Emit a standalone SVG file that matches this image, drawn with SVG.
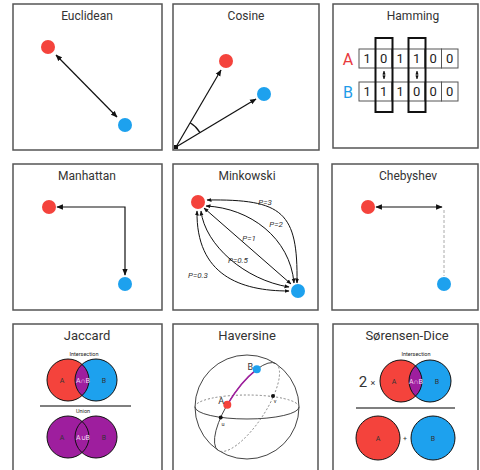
<svg xmlns="http://www.w3.org/2000/svg" width="480" height="470" viewBox="0 0 480 470">
<style>
.box{fill:#fff;stroke:#555;stroke-width:1.5}
.title{font-family:Roboto,"Liberation Sans",sans-serif;font-size:12px;fill:#333;text-anchor:middle}
.title2{font-family:Roboto,"Liberation Sans",sans-serif;font-size:13px;fill:#333;text-anchor:middle}
.red{fill:#f4433c}
.blue{fill:#1da1ee}
.purple{fill:#9e1e9e}
.ln{stroke:#111;stroke-width:1.2;fill:none}
.ar{marker-start:url(#ah);marker-end:url(#ah)}
.sm{font-family:Roboto,"Liberation Sans",sans-serif;font-size:5.5px;fill:#222;text-anchor:middle}
.vl{font-family:Roboto,"Liberation Sans",sans-serif;font-size:7px;fill:#333;text-anchor:middle}
.pl{font-family:Roboto,"Liberation Sans",sans-serif;font-size:8px;font-style:italic;fill:#333;text-anchor:middle}
.dig{font-family:Roboto,"Liberation Sans",sans-serif;font-size:13px;fill:#222;text-anchor:middle}
.cell{fill:#fff;stroke:#555;stroke-width:1}
</style>
<defs>
<marker id="ah" viewBox="0 0 10 10" refX="9" refY="5" markerWidth="5.5" markerHeight="5.5" orient="auto-start-reverse"><path d="M0,1 L10,5 L0,9 z" fill="#111"/></marker>
<marker id="ahs" viewBox="0 0 10 10" refX="9" refY="5" markerWidth="5" markerHeight="5" orient="auto-start-reverse"><path d="M0,1 L10,5 L0,9 z" fill="#111"/></marker>
</defs>

<!-- Euclidean -->
<g id="euclidean">
<rect class="box" x="13" y="4" width="149" height="146"/>
<text class="title" x="87" y="20">Euclidean</text>
<circle class="red" cx="48" cy="47" r="7"/>
<circle class="blue" cx="125" cy="125" r="7"/>
</g>

<!-- Cosine -->
<g id="cosine">
<rect class="box" x="173" y="4" width="146" height="146"/>
<text class="title" x="246" y="20">Cosine</text>
<circle class="red" cx="226" cy="61" r="7"/>
<circle class="blue" cx="264" cy="94" r="7"/>
<rect x="174" y="145" width="4" height="4" fill="#111"/>
</g>

<!-- Hamming -->
<g id="hamming">
<rect class="box" x="333" y="4" width="145" height="144"/>
<text class="title" x="413" y="20">Hamming</text>
<text x="348" y="65" font-family="Roboto,'Liberation Sans',sans-serif" font-size="16" fill="#e8393d" text-anchor="middle">A</text>
<text x="348" y="98" font-family="Roboto,'Liberation Sans',sans-serif" font-size="16" fill="#1e9be8" text-anchor="middle">B</text>
<g>
<rect class="cell" x="359" y="49" width="16.5" height="19"/>
<rect class="cell" x="375.5" y="49" width="16.5" height="19"/>
<rect class="cell" x="392" y="49" width="16.5" height="19"/>
<rect class="cell" x="408.5" y="49" width="16.5" height="19"/>
<rect class="cell" x="425" y="49" width="16.5" height="19"/>
<rect class="cell" x="441.5" y="49" width="16.5" height="19"/>
<rect class="cell" x="359" y="82" width="16.5" height="19"/>
<rect class="cell" x="375.5" y="82" width="16.5" height="19"/>
<rect class="cell" x="392" y="82" width="16.5" height="19"/>
<rect class="cell" x="408.5" y="82" width="16.5" height="19"/>
<rect class="cell" x="425" y="82" width="16.5" height="19"/>
<rect class="cell" x="441.5" y="82" width="16.5" height="19"/>
</g>
<text class="dig" x="367.25" y="63">1</text>
<text class="dig" x="383.75" y="63">0</text>
<text class="dig" x="400.25" y="63">1</text>
<text class="dig" x="416.75" y="63">1</text>
<text class="dig" x="433.25" y="63">0</text>
<text class="dig" x="449.75" y="63">0</text>
<text class="dig" x="367.25" y="96">1</text>
<text class="dig" x="383.75" y="96">1</text>
<text class="dig" x="400.25" y="96">1</text>
<text class="dig" x="416.75" y="96">0</text>
<text class="dig" x="433.25" y="96">0</text>
<text class="dig" x="449.75" y="96">0</text>
<rect x="375.5" y="38" width="17" height="74" fill="none" stroke="#111" stroke-width="2"/>
<rect x="408.5" y="38" width="17" height="74" fill="none" stroke="#111" stroke-width="2"/>
<line x1="384" y1="71" x2="384" y2="79" stroke="#111" stroke-width="0.8" marker-start="url(#ahs)" marker-end="url(#ahs)"/>
<line x1="417" y1="71" x2="417" y2="79" stroke="#111" stroke-width="0.8" marker-start="url(#ahs)" marker-end="url(#ahs)"/>
</g>

<!-- Manhattan -->
<g id="manhattan">
<rect class="box" x="13" y="164" width="149" height="146"/>
<text class="title" x="87" y="180">Manhattan</text>
<circle class="red" cx="49" cy="207" r="7"/>
<circle class="blue" cx="125" cy="284" r="7"/>
</g>

<!-- Minkowski -->
<g id="minkowski">
<rect class="box" x="173" y="164" width="145" height="146"/>
<text class="title" x="247" y="180">Minkowski</text>
<circle class="red" cx="198" cy="202" r="7"/>
<circle class="blue" cx="298" cy="291" r="7"/>
<text class="pl" x="265" y="205">P=3</text>
<text class="pl" x="276" y="227">P=2</text>
<text class="pl" x="249" y="241">P=1</text>
<text class="pl" x="238" y="263">P=0.5</text>
<text class="pl" x="198" y="278">P=0.3</text>
</g>

<!-- Chebyshev -->
<g id="chebyshev">
<rect class="box" x="332" y="164" width="146" height="146"/>
<text class="title" x="408" y="180">Chebyshev</text>
<circle class="red" cx="368" cy="207" r="7"/>
<circle class="blue" cx="444" cy="284" r="7"/>
</g>

<!-- Jaccard -->
<g id="jaccard">
<rect class="box" x="13" y="324" width="149" height="150"/>
<text class="title2" x="87" y="340">Jaccard</text>
<text class="sm" x="84" y="356">Intersection</text>
<circle class="red" cx="68" cy="380" r="21"/>
<circle class="blue" cx="96" cy="380" r="21"/>
<path class="purple" d="M82,364.35 A21,21 0 0 1 82,395.65 A21,21 0 0 1 82,364.35 Z"/>
<circle cx="68" cy="380" r="21" fill="none" stroke="#111" stroke-width="1"/>
<circle cx="96" cy="380" r="21" fill="none" stroke="#111" stroke-width="1"/>
<text class="vl" x="62" y="382.5">A</text>
<text class="vl" x="83" y="382.5" style="fill:#f3d6f3">A∩B</text>
<text class="vl" x="104" y="382.5">B</text>
<line x1="40" y1="406" x2="131" y2="406" stroke="#555" stroke-width="1.5"/>
<text class="sm" x="83" y="413">Union</text>
<circle class="purple" cx="68" cy="437" r="21"/>
<circle class="purple" cx="96" cy="437" r="21"/>
<circle cx="68" cy="437" r="21" fill="none" stroke="#111" stroke-width="1"/>
<circle cx="96" cy="437" r="21" fill="none" stroke="#111" stroke-width="1"/>
<text class="vl" x="62" y="439.5">A</text>
<text class="vl" x="83" y="439.5" style="fill:#f3d6f3">A∪B</text>
<text class="vl" x="104" y="439.5">B</text>
</g>

<!-- Haversine -->
<g id="haversine">
<rect class="box" x="173" y="324" width="145" height="150"/>
<text class="title2" x="247" y="340">Haversine</text>
<circle cx="247" cy="407" r="52" fill="none" stroke="#444" stroke-width="1"/>
<path d="M195,407 A52,12 0 0 1 299,407" fill="none" stroke="#777" stroke-width="0.9" stroke-dasharray="2,2"/>
<path d="M195,407 A52,12 0 0 0 299,407" fill="none" stroke="#444" stroke-width="1"/>
<path d="M275.9,363.7 A52,18 -56.3 0 1 218.1,450.3" fill="none" stroke="#777" stroke-width="0.9" stroke-dasharray="2,2"/>
<path d="M275.9,363.7 A52,18 -56.3 0 0 218.1,450.3" fill="none" stroke="#444" stroke-width="1"/>
<path d="M227.3,404.7 A52,18 -56.3 0 1 256.8,369.3" fill="none" stroke="#a0209f" stroke-width="1.6"/>
<circle class="blue" cx="256.8" cy="369.3" r="4"/>
<circle class="red" cx="227.3" cy="404.7" r="4"/>
<text x="253" y="370" font-family="Roboto,'Liberation Sans',sans-serif" font-size="9" fill="#333" text-anchor="end">B</text>
<text x="224" y="404" font-family="Roboto,'Liberation Sans',sans-serif" font-size="9" fill="#333" text-anchor="end">A</text>
<circle cx="220.7" cy="417.5" r="2" fill="#111"/>
<circle cx="273" cy="396" r="2" fill="#111"/>
<text class="sm" x="223" y="425.5">u</text>
<text class="sm" x="275" y="403">v</text>
</g>

<!-- Sorensen-Dice -->
<g id="sorensen-dice">
<rect class="box" x="333" y="324" width="145" height="150"/>
<text class="title2" x="407" y="340">Sørensen-Dice</text>
<text class="sm" x="416" y="356">Intersection</text>
<text x="363" y="387" font-family="Roboto,'Liberation Sans',sans-serif" font-size="15" fill="#333" text-anchor="middle">2</text>
<text x="373" y="386" font-family="Roboto,'Liberation Sans',sans-serif" font-size="9" fill="#333" text-anchor="middle">×</text>
<circle class="red" cx="401" cy="381" r="21"/>
<circle class="blue" cx="430" cy="381" r="21"/>
<path class="purple" d="M415.5,365.81 A21,21 0 0 1 415.5,396.19 A21,21 0 0 1 415.5,365.81 Z"/>
<circle cx="401" cy="381" r="21" fill="none" stroke="#111" stroke-width="1"/>
<circle cx="430" cy="381" r="21" fill="none" stroke="#111" stroke-width="1"/>
<text class="vl" x="394" y="383.5">A</text>
<text class="vl" x="416" y="383.5" style="fill:#f3d6f3">A∩B</text>
<text class="vl" x="437" y="383.5">B</text>
<line x1="356" y1="408" x2="455" y2="408" stroke="#555" stroke-width="1.5"/>
<circle class="red" cx="378" cy="438" r="22" stroke="#111" stroke-width="1"/>
<circle class="blue" cx="433" cy="438" r="22" stroke="#111" stroke-width="1"/>
<text class="vl" x="378" y="440.5">A</text>
<text class="vl" x="405" y="440.5">+</text>
<text class="vl" x="433" y="440.5">B</text>
</g>

<!-- connectors -->
<g id="connectors">
<line class="ln ar" x1="56" y1="55" x2="117" y2="117"/>
<line class="ln" x1="176" y1="147" x2="221" y2="70" marker-end="url(#ah)"/>
<line class="ln" x1="176" y1="147" x2="256" y2="99" marker-end="url(#ah)"/>
<path class="ln" d="M190.1,122.8 A28,28 0 0 1 200,132.6" stroke-width="0.9"/>
<path class="ln ar" d="M57,207 H125 V275"/>
<line class="ln ar" x1="376" y1="207" x2="442" y2="207"/>
<line x1="444" y1="210" x2="444" y2="276" stroke="#aaa" stroke-width="1" stroke-dasharray="3,2"/>
<g stroke="#111" stroke-width="1" fill="none" marker-start="url(#ahs)" marker-end="url(#ahs)">
<path d="M207,200 C283,199 298,212 297,283"/>
<path d="M206,206 C250,208 290,238 294,283"/>
<path d="M204,208 L291,284"/>
<path d="M201,211 C205,245 245,280 289,287"/>
<path d="M197,211 C196,275 240,291 289,291"/>
</g>
</g>
</svg>
